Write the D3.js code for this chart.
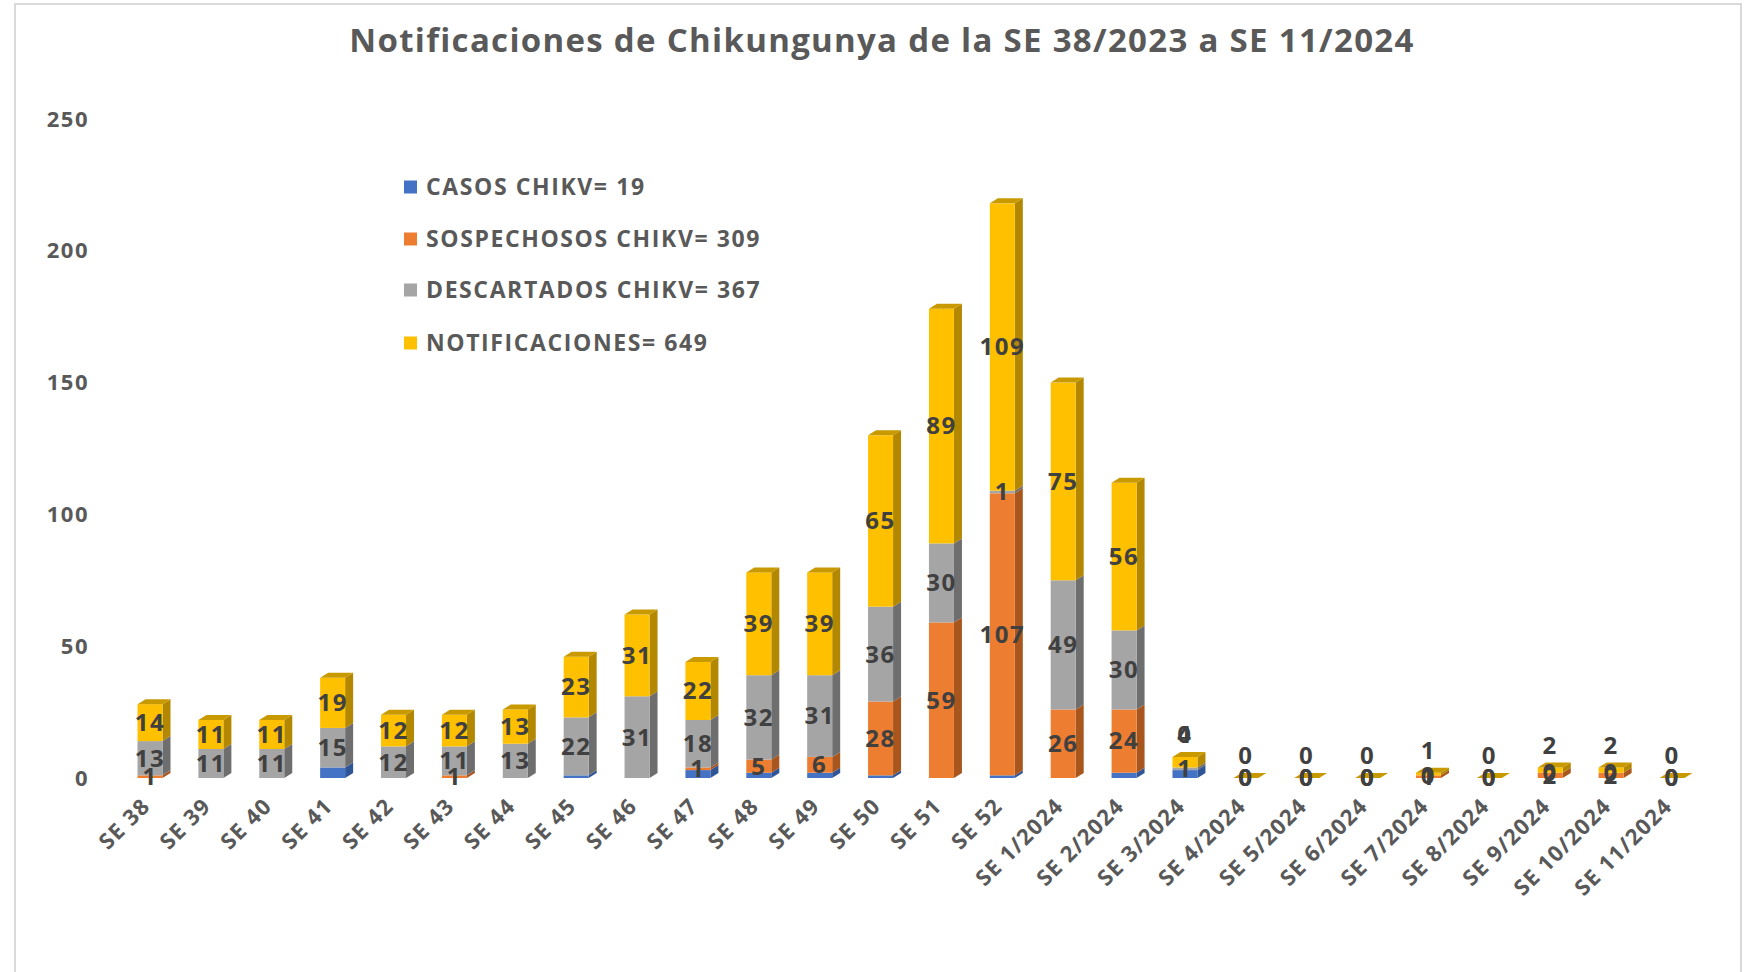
<!DOCTYPE html>
<html>
<head>
<meta charset="utf-8">
<script src="https://cdn.jsdelivr.net/npm/d3@7"></script>
<style>
  html, body { margin: 0; padding: 0; background: #ffffff; }
  svg { display: block; }
  text { font-family: "Open Sans", "DejaVu Sans", sans-serif; font-weight: 700; }
</style>
</head>
<body>
<svg id="chart" width="1744" height="972"></svg>
<script>
// ---------- DATA ----------
const categories = ["SE 38","SE 39","SE 40","SE 41","SE 42","SE 43","SE 44","SE 45","SE 46","SE 47",
  "SE 48","SE 49","SE 50","SE 51","SE 52","SE 1/2024","SE 2/2024","SE 3/2024","SE 4/2024","SE 5/2024",
  "SE 6/2024","SE 7/2024","SE 8/2024","SE 9/2024","SE 10/2024","SE 11/2024"];
// null = no value reported (no label shown)
const casos        = [0,0,0,4,0,0,0,1,0,3,2,2,1,0,1,0,2,3,0,0,0,0,0,0,0,0];
const sospechosos  = [1,null,null,null,null,1,null,null,null,1,5,6,28,59,107,26,24,0,0,0,0,1,0,2,2,0];
const descartados  = [13,11,11,15,12,11,13,22,31,18,32,31,36,30,1,49,30,1,0,0,0,0,0,0,0,0];
const notificaciones = [14,11,11,19,12,12,13,23,31,22,39,39,65,89,109,75,56,4,0,0,0,1,0,2,2,0];
const seriesKeys   = ["casos","sospechosos","descartados","notificaciones"];
const legendLabels = ["CASOS CHIKV= 19","SOSPECHOSOS CHIKV= 309","DESCARTADOS CHIKV= 367","NOTIFICACIONES= 649"];
const yTicks = [0,50,100,150,200,250];
const titleText = "Notificaciones de Chikungunya de la SE 38/2023 a SE 11/2024";

// ---------- STYLE ----------
const frontColors = ["#4472C4","#ED7D31","#A5A5A5","#FFC000"];
const sideColors  = ["#2F5597","#A9561E","#6E6E6E","#B38700"];
const topColor    = "#C99A00";
const textColor   = "#404040";
const axisColor   = "#595959";

const raw = { casos, sospechosos, descartados, notificaciones };
const table = categories.map((c, i) => {
  const row = { cat: c };
  seriesKeys.forEach(k => { row[k] = raw[k][i] == null ? 0 : raw[k][i]; });
  return row;
});
const stacked = d3.stack().keys(seriesKeys)(table);

const svg = d3.select("#chart");

// frame
svg.append("rect").attr("x", 15).attr("y", 4).attr("width", 1726).attr("height", 975)
  .attr("fill", "#fff").attr("stroke", "#d9d9d9").attr("stroke-width", 2);

// scales
const x = d3.scalePoint().domain(categories).range([150, 1672]);
const y = d3.scaleLinear().domain([0, 250]).range([778, 119]);
const bw = 25, dx = 8, dy = 5;

// title
svg.append("text").attr("x", 882).attr("y", 52).attr("text-anchor", "middle")
  .attr("font-size", 33).attr("letter-spacing", 1.3).attr("fill", axisColor).text(titleText);

// y axis (labels only)
const yAxis = d3.axisLeft(y).tickValues(yTicks).tickSize(0).tickPadding(0);
const yg = svg.append("g").attr("transform", "translate(89,0)").call(yAxis);
yg.select(".domain").remove();
yg.selectAll("text").attr("font-size", 22).attr("letter-spacing", 1.5).attr("fill", axisColor)
  .attr("font-family", "'Open Sans', sans-serif").attr("font-weight", 700);

// x axis labels
const xAxis = d3.axisBottom(x).tickSize(0).tickPadding(0);
const xg = svg.append("g").call(xAxis);
xg.select(".domain").remove();
xg.selectAll(".tick").attr("transform", d => `translate(${x(d) - 4},802)`);
xg.selectAll("text").attr("font-size", 22).attr("letter-spacing", 1.2).attr("fill", axisColor)
  .attr("font-family", "'Open Sans', sans-serif").attr("font-weight", 700)
  .attr("text-anchor", "end").attr("dy", "0.35em").attr("y", 0)
  .attr("transform", "rotate(-45)");

// bars
const barsG = svg.append("g");
categories.forEach((c, i) => {
  const cx = x(c);
  const x0 = cx - bw / 2, x1 = cx + bw / 2;
  stacked.forEach((s, k) => {
    const [v0, v1] = s[i];
    if (v1 - v0 <= 0) return;
    const yb = y(v0), yt = y(v1);
    barsG.append("polygon")
      .attr("points", [[x1, yb], [x1 + dx, yb - dy], [x1 + dx, yt - dy], [x1, yt]].join(" "))
      .attr("fill", sideColors[k]);
    barsG.append("rect").attr("x", x0).attr("y", yt).attr("width", bw).attr("height", yb - yt)
      .attr("fill", frontColors[k]);
  });
  const top = stacked[stacked.length - 1][i][1];
  const yt = y(top);
  barsG.append("polygon")
    .attr("points", [[x0, yt], [x0 + dx, yt - dy], [x1 + dx, yt - dy], [x1, yt]].join(" "))
    .attr("fill", topColor);
});

// data labels (no labels for casos, none for missing values)
const labelsG = svg.append("g");
categories.forEach((c, i) => {
  const cx = x(c);
  const topY = y(stacked[3][i][1]);
  [1, 2, 3].forEach(k => {
    const rv = raw[seriesKeys[k]][i];
    if (rv == null) return;
    const [v0, v1] = stacked[k][i];
    let ly = (y(v0) + y(v1)) / 2;
    if (k === 3 && rv <= 4) ly = topY - 22;
    if (k === 1 && rv === 0 && v0 > 0) ly = topY - 22;
    labelsG.append("text").attr("x", cx).attr("y", ly).attr("dy", "0.35em")
      .attr("text-anchor", "middle").attr("font-size", 24).attr("fill", textColor)
      .attr("letter-spacing", 1.5).text(rv);
  });
});

// legend
const legendY = [187, 239, 290, 343];
const lg = svg.append("g");
legendLabels.forEach((t, k) => {
  lg.append("rect").attr("x", 404).attr("y", legendY[k] - 6.5).attr("width", 13).attr("height", 13)
    .attr("fill", frontColors[k]);
  lg.append("text").attr("x", 426).attr("y", legendY[k]).attr("dy", "0.35em")
    .attr("font-size", 23).attr("letter-spacing", 1.6).attr("fill", axisColor).text(t);
});
</script>
</body>
</html>
